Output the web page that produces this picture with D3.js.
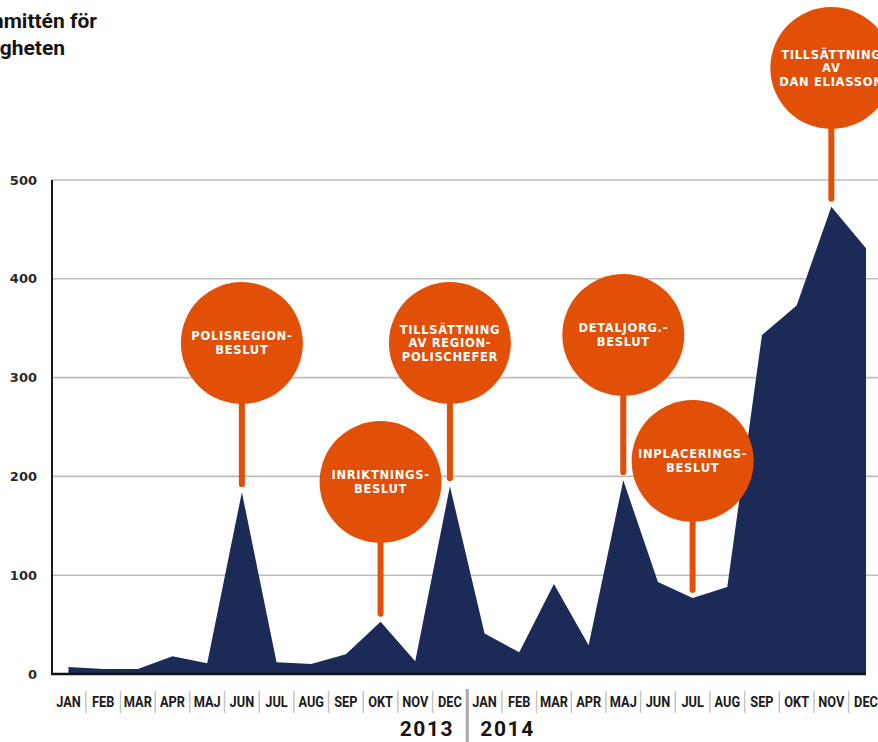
<!DOCTYPE html>
<html>
<head>
<meta charset="utf-8">
<script src="https://cdn.jsdelivr.net/npm/d3@7"></script>
<style>
  html, body { margin: 0; padding: 0; background: #fff; }
  svg { display: block; }
</style>
</head>
<body>
<svg id="chart" width="878" height="742"></svg>
<script>
// ---- data ----
const months = ["JAN","FEB","MAR","APR","MAJ","JUN","JUL","AUG","SEP","OKT","NOV","DEC"];
const years = ["2013", "2014"];
const values2013 = [7, 5, 5, 18, 11, 184, 12, 10, 20, 53, 13, 190];
const values2014 = [41, 22, 91, 29, 196, 93, 77, 88, 343, 373, 473, 431];
const yTicks = [0, 100, 200, 300, 400, 500];
const titleLines = ["Genomförandekommittén för", "den nya polismyndigheten"];
// annotations: month index (0..23) and text lines
const annotationIndex = [5, 9, 11, 16, 18, 22];
const annotationText = [
  ["POLISREGION-", "BESLUT"],
  ["INRIKTNINGS-", "BESLUT"],
  ["TILLSÄTTNING", "AV REGION-", "POLISCHEFER"],
  ["DETALJORG.-", "BESLUT"],
  ["INPLACERINGS-", "BESLUT"],
  ["TILLSÄTTNING", "AV", "DAN ELIASSON"]
];
// layout: circle center heights (px) for each annotation
const circleCy = [343, 482, 343, 335, 461, 68];

// ---- build ----
const series = values2013.concat(values2014).map((v, i) => ({
  key: years[Math.floor(i / 12)] + "-" + months[i % 12],
  month: months[i % 12],
  value: v,
  i
}));

const svg = d3.select("#chart");
const NAVY = "#1b2a57";
const ORANGE = "#e24f07";

const x = d3.scalePoint().domain(series.map(d => d.key)).range([68.5, 866]);
const y = d3.scaleLinear().domain([0, 500]).range([674, 180]);
const step = x.step();

// title
const title = svg.append("g")
  .attr("font-family", "Roboto, 'Liberation Sans', sans-serif")
  .attr("font-weight", 700)
  .attr("font-size", 21)
  .attr("fill", "#141414");
title.append("text").attr("x", 97).attr("y", 28).attr("text-anchor", "end").text(titleLines[0]);
title.append("text").attr("x", 65).attr("y", 55).attr("text-anchor", "end").text(titleLines[1]);

// gridlines
svg.append("g")
  .selectAll("line")
  .data(yTicks.filter(t => t > 0))
  .join("line")
  .attr("x1", 52).attr("x2", 878)
  .attr("y1", d => y(d)).attr("y2", d => y(d))
  .attr("stroke", "#bdbdbd").attr("stroke-width", 1.6);

// y tick labels
svg.append("g")
  .selectAll("text")
  .data(yTicks)
  .join("text")
  .attr("x", 37).attr("y", d => y(d))
  .attr("dy", "0.36em")
  .attr("text-anchor", "end")
  .attr("font-family", "'DejaVu Sans', sans-serif")
  .attr("font-weight", 700)
  .attr("font-size", 13)
  .attr("fill", "#2a2a2a")
  .text(d => d);

// area
const area = d3.area()
  .x(d => x(d.key))
  .y0(y(0))
  .y1(d => y(d.value));
svg.append("path")
  .datum(series)
  .attr("d", area)
  .attr("fill", NAVY);

// axes lines
svg.append("line")
  .attr("x1", 52).attr("x2", 52)
  .attr("y1", y(500)).attr("y2", y(0) + 1)
  .attr("stroke", "#1a1a1a").attr("stroke-width", 2);
svg.append("line")
  .attr("x1", 51).attr("x2", x(series[series.length - 1].key))
  .attr("y1", y(0)).attr("y2", y(0))
  .attr("stroke", "#111").attr("stroke-width", 2.5);

// annotations
const ann = svg.append("g")
  .selectAll("g")
  .data(annotationIndex.map((idx, k) => ({ d: series[idx], lines: annotationText[k], cy: circleCy[k] })))
  .join("g");
ann.append("line")
  .attr("x1", a => x(a.d.key)).attr("x2", a => x(a.d.key))
  .attr("y1", a => a.cy)
  .attr("y2", a => y(a.d.value) - 8)
  .attr("stroke", ORANGE).attr("stroke-width", 6).attr("stroke-linecap", "round");
ann.append("circle")
  .attr("cx", a => x(a.d.key)).attr("cy", a => a.cy)
  .attr("r", 61)
  .attr("fill", ORANGE);
ann.each(function(a) {
  const g = d3.select(this);
  const n = a.lines.length;
  const lh = 13.6;
  g.selectAll("text")
    .data(a.lines)
    .join("text")
    .attr("x", x(a.d.key))
    .attr("y", (t, j) => a.cy + (j - (n - 1) / 2) * lh)
    .attr("dy", "0.36em")
    .attr("text-anchor", "middle")
    .attr("font-family", "'DejaVu Sans', sans-serif")
    .attr("font-weight", 700)
    .attr("font-size", 11.5)
    .attr("letter-spacing", 0.7)
    .attr("fill", "#fff")
    .text(t => t);
});

// month labels
svg.append("g")
  .selectAll("text")
  .data(series)
  .join("text")
  .attr("transform", d => `translate(${x(d.key)},706.5) scale(0.88,1)`)
  .attr("text-anchor", "middle")
  .attr("font-family", "Roboto, 'Liberation Sans', sans-serif")
  .attr("font-weight", 700)
  .attr("font-size", 14.5)
  .attr("fill", "#1a1a1a")
  .text(d => d.month);

// separators between months
svg.append("g")
  .selectAll("line")
  .data(series.slice(1).filter(d => d.i !== 12))
  .join("line")
  .attr("x1", d => x(d.key) - step / 2).attr("x2", d => x(d.key) - step / 2)
  .attr("y1", 691).attr("y2", 713)
  .attr("stroke", "#c4c4c4").attr("stroke-width", 1.5);

// year separator
const yearSepX = x(series[12].key) - step / 2;
svg.append("line")
  .attr("x1", yearSepX).attr("x2", yearSepX)
  .attr("y1", 689).attr("y2", 742)
  .attr("stroke", "#a8a8a8").attr("stroke-width", 3);

// year labels
const yearG = svg.append("g")
  .attr("font-family", "Roboto, 'Liberation Sans', sans-serif")
  .attr("font-weight", 700)
  .attr("font-size", 21)
  .attr("letter-spacing", 1.6)
  .attr("fill", "#141414");
yearG.append("text").attr("x", yearSepX - 13).attr("y", 736).attr("text-anchor", "end").text(years[0]);
yearG.append("text").attr("x", yearSepX + 13).attr("y", 736).attr("text-anchor", "start").text(years[1]);
</script>
</body>
</html>
